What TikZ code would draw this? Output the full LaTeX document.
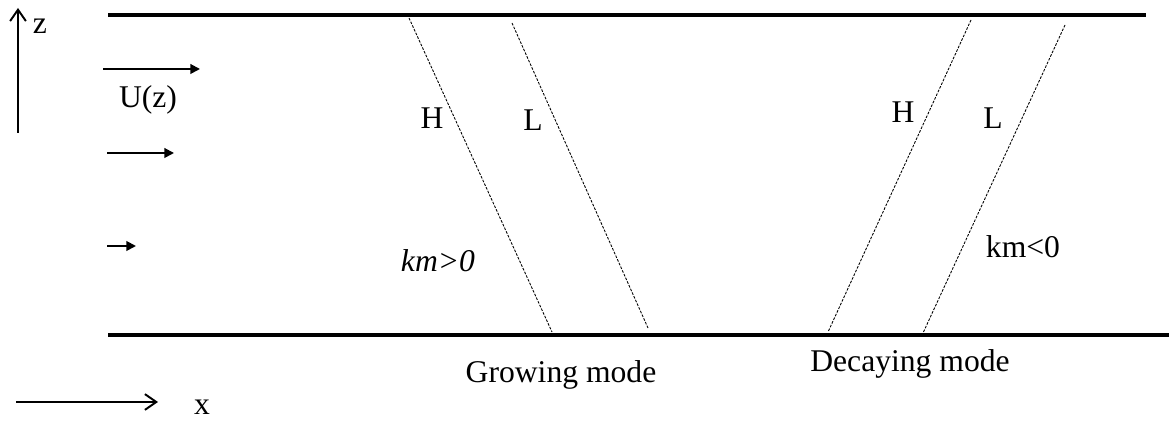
\documentclass[tikz,border=0pt]{standalone}
\usepackage{fontspec}
\setmainfont{Liberation Serif}
\usetikzlibrary{arrows.meta, positioning}

\begin{document}
\begin{tikzpicture}[x=0.02cm, y=-0.02cm,
    wall/.style={line width=2.8pt},
    phase/.style={line width=0.5pt, dash pattern=on 1.5pt off 0.8pt},
    flow/.style={line width=1.1pt, -{Triangle[length=5.5pt, width=5.5pt]}},
    axis/.style={line width=1.1pt, -{Straight Barb[length=6.5pt, width=9pt]}},
    lbl/.style={font=\fontsize{18}{22}\selectfont, inner sep=0pt}]
    \useasboundingbox (0,0) rectangle (1169,421);

    % Walls
    \coordinate (topW) at (108,15);
    \coordinate (topE) at (1146,15);
    \coordinate (botW) at (108,335);
    \coordinate (botE) at (1169,335);
    \draw[wall] (topW) -- (topE);
    \draw[wall] (botW) -- (botE);

    % Axes
    \coordinate (zfoot) at (18,133);
    \coordinate (ztip) at (18,8);
    \coordinate (xfoot) at (16,402);
    \coordinate (xtip) at (158,402);
    \draw[axis] (zfoot) -- (ztip);
    \draw[axis] (xfoot) -- (xtip);
    \node[lbl] (zlab) at (40,26) {z};
    \node[lbl] (xlab) at (202,407) {x};

    % Mean flow U(z)
    \coordinate (u1a) at (103,69);
    \coordinate (u1b) at (200,69);
    \coordinate (u2a) at (107,153);
    \coordinate (u2b) at (174,153);
    \coordinate (u3a) at (107,246);
    \coordinate (u3b) at (136,246);
    \draw[flow] (u1a) -- (u1b);
    \draw[flow] (u2a) -- (u2b);
    \draw[flow] (u3a) -- (u3b);
    \node[lbl] (ulab) at (148,100) {U(z)};

    % Growing mode: phase lines tilt against the shear
    \coordinate (gHtop) at (409,18);
    \coordinate (gHbot) at (552,332);
    \coordinate (gLtop) at (512,23);
    \coordinate (gLbot) at (648,328);
    \draw[phase] (gHtop) -- (gHbot);
    \draw[phase] (gLtop) -- (gLbot);
    \node[lbl] (gH) at (432,118) {H};
    \node[lbl] (gL) at (533,120) {L};
    \node[lbl] (gkm) at (438,261) {\itshape km>0};
    \node[lbl, anchor=base] (gname) at (561,383) {Growing mode};

    % Decaying mode: phase lines tilt with the shear
    \coordinate (dHtop) at (971,20);
    \coordinate (dHbot) at (828,332);
    \coordinate (dLtop) at (1065,25);
    \coordinate (dLbot) at (923,333);
    \draw[phase] (dHtop) -- (dHbot);
    \draw[phase] (dLtop) -- (dLbot);
    \node[lbl] (dH) at (903,112) {H};
    \node[lbl] (dL) at (993,118) {L};
    \node[lbl] (dkm) at (1023,247) {km<0};
    \node[lbl, anchor=base] (dname) at (910,372) {Decaying mode};
\end{tikzpicture}
\end{document}
